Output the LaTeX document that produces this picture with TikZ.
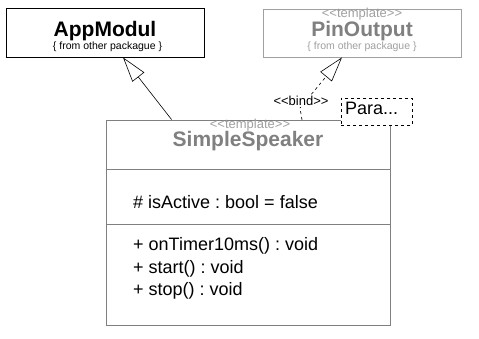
\documentclass[tikz,border=0pt]{standalone}
\usepackage{fontspec}
\newfontfamily\umlfont{Liberation Sans}
\usetikzlibrary{arrows.meta}
\definecolor{umlgray}{RGB}{128,128,128}
\definecolor{umllight}{RGB}{160,160,160}
\newcommand{\fsz}[1]{\fontsize{#1}{#1}\selectfont}
\frenchspacing

\begin{document}
\begin{tikzpicture}[x=1pt,y=-1pt,font=\umlfont,
  classbox/.style={draw=black, line width=0.8pt, fill=white, inner sep=0pt},
  tmplbox/.style={draw=umllight, line width=0.8pt, fill=white, inner sep=0pt},
  speakbox/.style={draw=umlgray, line width=0.8pt, fill=white, inner sep=0pt},
  parabox/.style={draw=black, dashed, line width=0.8pt, fill=white, inner sep=0pt},
  titletext/.style={anchor=base, inner sep=0pt, font=\umlfont\bfseries\fsz{21}},
  stereotext/.style={anchor=base, inner sep=0pt, text=umllight, font=\umlfont\fsz{13}},
  subtext/.style={anchor=base, inner sep=0pt, font=\umlfont\fsz{10.5}},
  membertext/.style={anchor=base west, inner sep=0pt, font=\umlfont\fsz{18}},
  genarrow/.style={-{Triangle[open,length=25pt,width=15pt]}, line width=0.6pt},
  bindarrow/.style={-{Triangle[open,length=25pt,width=15pt]}, dashed, line width=0.6pt}]
\useasboundingbox (0,0) rectangle (479,339);
\node[classbox, minimum width=198pt, minimum height=49pt] (app) at (105,32.5) {};
\node[titletext] (apptitle) at (105,37) {AppModul};
\node[subtext] (appsub) at (107.5,49.5) {\{ from other packague \}};
\node[tmplbox, minimum width=198pt, minimum height=48pt] (pin) at (362,33) {};
\node[stereotext] (pinstereo) at (362,18) {<<template>>};
\node[titletext, text=umlgray] (pintitle) at (362,37) {PinOutput};
\node[subtext, text=umllight] (pinsub) at (362,49.5) {\{ from other packague \}};
\node[speakbox, minimum width=284pt, minimum height=205pt] (speaker) at (248,222.5) {};
\draw[umlgray, line width=0.8pt] (speaker.west |- 0,169) -- (speaker.east |- 0,169);
\draw[umlgray, line width=0.8pt] (speaker.west |- 0,224) -- (speaker.east |- 0,224);
\node[stereotext] (speakstereo) at (250,129) {<<template>>};
\node[titletext, text=umlgray] (speaktitle) at (248,147) {SimpleSpeaker};
\node[membertext] (attr) at (133,208) {\# isActive : bool = false};
\node[membertext] (optimer) at (133,251) {+ onTimer10ms() : void};
\node[membertext] (opstart) at (133,273) {+ start() : void};
\node[membertext] (opstop) at (133,295) {+ stop() : void};
\node[parabox, minimum width=71pt, minimum height=27pt] (para) at (376.5,111.5) {};
\node[membertext] (paratext) at (345,115) {Para...};
\draw[genarrow] ([xshift=66pt]speaker.north west) -- ([xshift=18pt]app.south);
\coordinate (bindfoot) at (302,120);
\coordinate (bindbend) at (300,108);
\draw[bindarrow] (bindfoot) -- (bindbend) -- ([xshift=-20pt]pin.south);
\node[anchor=base, inner sep=1pt, fill=white, font=\umlfont\fsz{13}] (bindlabel) at (301,106) {<<bind>>};
\end{tikzpicture}
\end{document}
